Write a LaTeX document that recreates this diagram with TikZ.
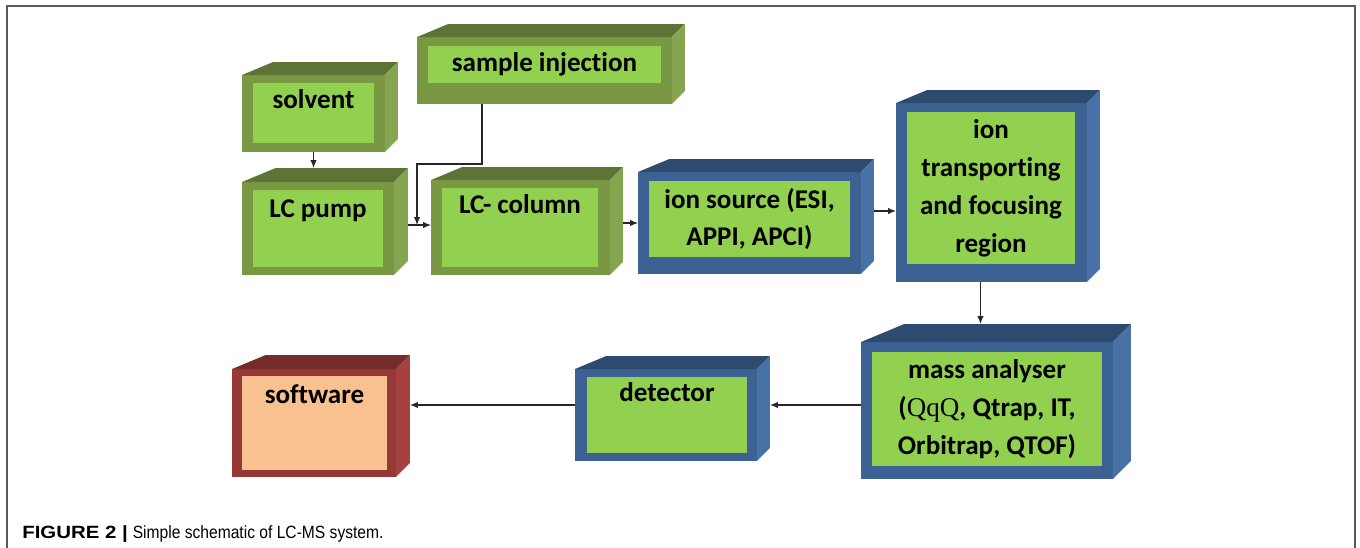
\documentclass[tikz,border=0pt]{standalone}
\usepackage{fontspec}
\usepackage{graphicx}
\usepackage{tikz}
\usetikzlibrary{positioning,arrows.meta}
\setmainfont{Carlito}[Ligatures=NoCommon]
\newfontfamily\capfont{Liberation Sans}
\newfontfamily\qfont{Liberation Serif}

\definecolor{frontg}{RGB}{122,152,68}
\definecolor{topg}{RGB}{94,116,54}
\definecolor{sideg}{RGB}{134,165,80}
\definecolor{frontb}{RGB}{59,98,146}
\definecolor{topb}{RGB}{45,75,110}
\definecolor{sideb}{RGB}{72,114,166}
\definecolor{frontr}{RGB}{149,56,54}
\definecolor{topr}{RGB}{118,44,42}
\definecolor{sider}{RGB}{165,66,63}
\definecolor{innerg}{RGB}{146,208,80}
\definecolor{innerr}{RGB}{249,192,144}

\begin{document}
\begin{tikzpicture}[x=0.02cm, y=-0.02cm, >={Latex[length=4.5pt,width=3.6pt]},
    face/.style={rectangle, inner sep=0pt, outer sep=0pt},
    txt/.style={face, align=center, font=\fontsize{15.4}{21.6}\selectfont\bfseries},
    link/.style={->, line width=0.6pt, black!85}]
        \useasboundingbox (0,0) rectangle (1360,548);
        \draw[black!65, line width=1.1pt] (7,548) -- (7,6) -- (1355,6) -- (1355,548);

        % front faces
        \node[face, fill=frontg, minimum width=2.86cm, minimum height=1.54cm] (solvent) at (313.5,113.5) {};
        \node[face, fill=frontg, minimum width=5.10cm, minimum height=1.34cm] (inject) at (544.5,70.5) {};
        \node[face, fill=frontg, minimum width=3.04cm, minimum height=1.86cm] (lcpump) at (318,228.5) {};
        \node[face, fill=frontg, minimum width=3.58cm, minimum height=1.90cm] (column) at (520.5,227.5) {};
        \node[face, fill=frontb, minimum width=4.46cm, minimum height=2.04cm] (ionsrc) at (749.5,223) {};
        \node[face, fill=frontb, minimum width=3.82cm, minimum height=3.58cm] (transport) at (991.5,192.5) {};
        \node[face, fill=frontb, minimum width=5.04cm, minimum height=2.74cm] (mass) at (987,410.5) {};
        \node[face, fill=frontb, minimum width=3.64cm, minimum height=1.84cm] (detector) at (666,415) {};
        \node[face, fill=frontr, minimum width=3.28cm, minimum height=2.16cm] (software) at (314,423) {};

        % top and side faces
        \foreach \n/\c/\d in {solvent/g/13, inject/g/13, lcpump/g/14, column/g/13, ionsrc/b/13,
            transport/b/13, mass/b/18, detector/b/13, software/r/14}{
          \fill[top\c] (\n.north west) -- ++(2.4*\d,-\d) -- ([shift={(\d,-\d)}]\n.north east)
            -- (\n.north east) -- cycle;
          \fill[side\c] (\n.north east) -- ++(\d,-\d) -- ([shift={(\d,-\d)}]\n.south east)
            -- (\n.south east) -- cycle;
          \coordinate (\n-back) at ([shift={(\d,-\d)}]\n.north);
          \coordinate (\n-side) at ([shift={(\d,0)}]\n.east);
        }

        % inner panels
        \node[txt, fill=innerg, minimum width=2.42cm, text height=0.5cm, text depth=0.7cm] (solvent-in) at (313.5,113) {solvent};
        \node[txt, fill=innerg, minimum width=4.66cm, minimum height=0.74cm] (inject-in) at (544.5,64.5) {sample injection};
        \node[txt, fill=innerg, minimum width=2.60cm, text height=0.54cm, text depth=1.0cm] (lcpump-in) at (318,228.5) {LC pump};
        \node[txt, fill=innerg, minimum width=3.12cm, text height=0.5cm, text depth=1.08cm] (column-in) at (520,227.5) {LC- column};
        \node[txt, fill=innerg, minimum width=4.02cm, minimum height=1.52cm] (ionsrc-in) at (749.5,219) {ion source (ESI,\\APPI, APCI)};
        \node[txt, fill=innerg, minimum width=3.36cm, minimum height=3.04cm] (transport-in) at (991,188) {ion\\transporting\\and focusing\\region};
        \node[txt, fill=innerg, minimum width=4.60cm, minimum height=2.28cm] (mass-in) at (987,409) {mass analyser\\({\qfont\mdseries QqQ}, Qtrap, IT,\\Orbitrap, QTOF)};
        \node[txt, fill=innerg, minimum width=3.20cm, text height=0.48cm, text depth=1.04cm] (detector-in) at (667,415) {detector};
        \node[txt, fill=innerr, minimum width=2.90cm, text height=0.54cm, text depth=1.34cm] (software-in) at (314.5,423) {software};

        % connectors
        \coordinate (drop) at (482,164);
        \coordinate (join) at (417,225);
        \coordinate (src-out) at ([shift={(13,-12)}]ionsrc.east);
        \coordinate (tr-out) at ([shift={(-11,0)}]transport.south);
        \coordinate (ms-out) at ([shift={(0,-5.5)}]mass.west);
        \coordinate (dt-out) at ([shift={(0,-10)}]detector.west);
        \draw[link] (solvent.south) -- (solvent.south |- lcpump-back);
        \draw[link] (inject.south -| drop) -- (drop) -| (join);
        \draw[link] (lcpump-side |- join) -- (join -| column.west);
        \draw[link] (column-side |- ionsrc.west) -- (ionsrc.west);
        \draw[link] (src-out) -- (src-out -| transport.west);
        \draw[link] (tr-out) -- (tr-out |- mass-back);
        \draw[link] (ms-out) -- (ms-out -| detector-side);
        \draw[link] (dt-out) -- (dt-out -| software-side);

        % caption
        \node[anchor=base west, inner sep=0pt, font=\capfont\fontsize{10.1}{12}\selectfont] (caption) at (22,538)
          {\scalebox{1.15}[1]{\bfseries FIGURE 2 |}\ \scalebox{0.88}[1]{Simple schematic of LC-MS system.}};
\end{tikzpicture}
\end{document}
